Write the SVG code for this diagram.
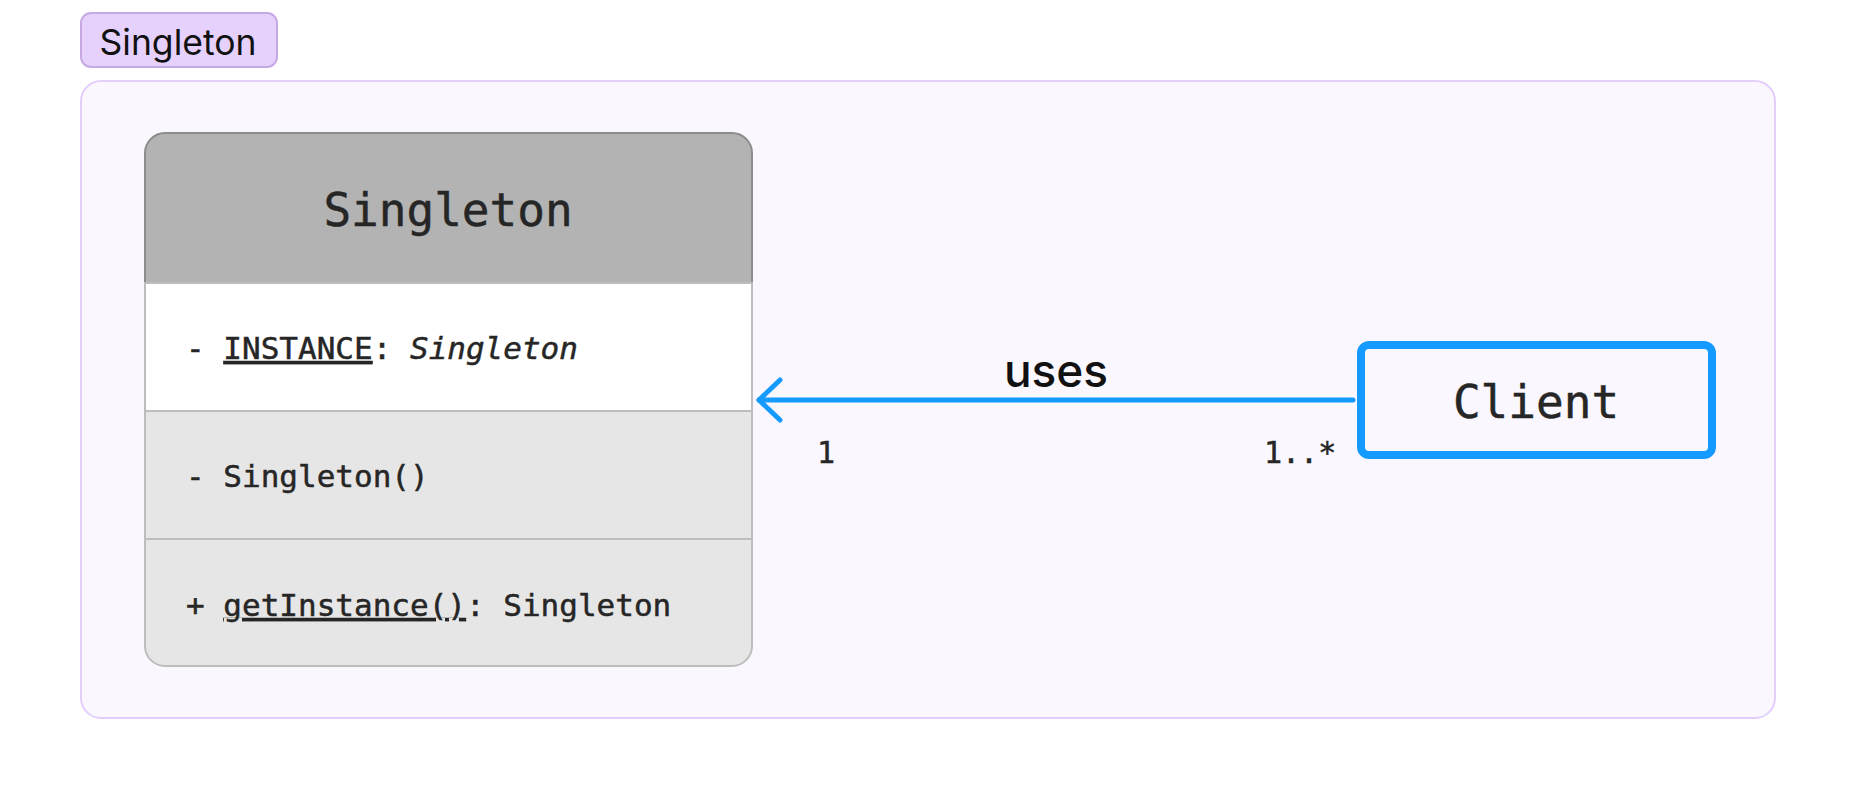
<svg xmlns="http://www.w3.org/2000/svg" width="1856" height="800" viewBox="0 0 1856 800">
<style>
.mono{font-family:"DejaVu Sans Mono","Liberation Mono",monospace;fill:#262626;stroke:#262626;stroke-width:0.5}
.sans{font-family:Inter,"Noto Sans","Liberation Sans",sans-serif;fill:#111}
.conn{stroke:#159bff;stroke-width:5;fill:none;stroke-linecap:round;stroke-linejoin:round}
</style>
<rect width="1856" height="800" fill="#ffffff"/>
<g id="cluster-singleton">
<rect x="81" y="81" width="1694" height="637" rx="20" fill="#faf7fe" stroke="#e3cffb" stroke-width="2"/>
<rect x="81" y="13" width="196" height="54" rx="10" fill="#e6d1fd" stroke="#c6a8e3" stroke-width="2"/>
<text class="sans" x="178" y="55" font-size="35.5" text-anchor="middle">Singleton</text>
</g>
<g id="class-singleton">
<path d="M145,283 V153 A20,20 0 0 1 165,133 H732 A20,20 0 0 1 752,153 V283 Z" fill="#b3b3b3" stroke="#8c8c8c" stroke-width="2"/>
<rect x="145" y="283" width="607" height="128" fill="#ffffff" stroke="#bdbdbd" stroke-width="2"/>
<rect x="145" y="411" width="607" height="128" fill="#e6e6e6" stroke="#bdbdbd" stroke-width="2"/>
<path d="M145,539 H752 V646 A20,20 0 0 1 732,666 H165 A20,20 0 0 1 145,646 Z" fill="#e6e6e6" stroke="#bdbdbd" stroke-width="2"/>
<text class="mono" x="448" y="226" font-size="46" text-anchor="middle" stroke-width="0.9">Singleton</text>
<text class="mono" x="186" y="359" font-size="31">- <tspan text-decoration="underline">INSTANCE</tspan>: <tspan font-style="italic">Singleton</tspan></text>
<text class="mono" x="186" y="487" font-size="31">- Singleton()</text>
<text class="mono" x="186" y="616" font-size="31">+ <tspan text-decoration="underline">getInstance()</tspan>: Singleton</text>
</g>
<g id="class-client">
<rect x="1361" y="345" width="351" height="110" rx="8" fill="#faf7fe" stroke="#159bff" stroke-width="8"/>
<text class="mono" x="1536" y="418" font-size="46" text-anchor="middle" stroke-width="0.9">Client</text>
</g>
<g id="connectors">
<path class="conn" d="M1353,400 H759"/>
<path class="conn" d="M780,380 L759,400 L780,420"/>
<text class="sans" x="1056" y="387" font-size="46" font-weight="500" text-anchor="middle">uses</text>
<text class="mono" x="817" y="463" font-size="30" fill="#111" stroke="#111">1</text>
<text class="mono" x="1264" y="463" font-size="30" fill="#111" stroke="#111">1..*</text>
</g>
</svg>
